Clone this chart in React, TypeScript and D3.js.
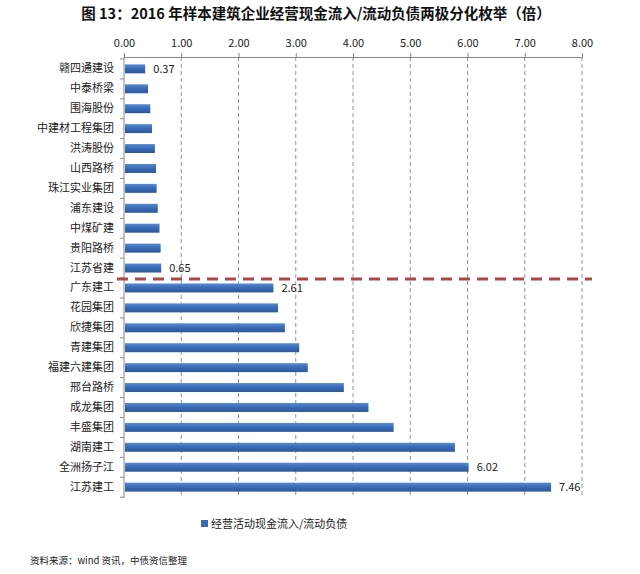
import React, { useRef, useEffect } from "react";
import * as d3 from "d3";

const companies = [
  "赣四通建设", "中泰桥梁", "围海股份", "中建材工程集团", "洪涛股份", "山西路桥",
  "珠江实业集团", "浦东建设", "中煤矿建", "贵阳路桥", "江苏省建",
  "广东建工", "花园集团", "欣捷集团", "青建集团", "福建六建集团", "邢台路桥",
  "成龙集团", "丰盛集团", "湖南建工", "全洲扬子江", "江苏建工",
];
const ratios = [
  0.37, 0.42, 0.46, 0.49, 0.54, 0.56, 0.57, 0.59, 0.62, 0.64, 0.65,
  2.61, 2.69, 2.81, 3.06, 3.21, 3.84, 4.27, 4.71, 5.78, 6.02, 7.46,
];
const labelled = ["赣四通建设", "江苏省建", "广东建工", "全洲扬子江", "江苏建工"];
const xTicks = [0, 1, 2, 3, 4, 5, 6, 7, 8];
const splitAfter = "江苏省建";

const title = "图 13：2016 年样本建筑企业经营现金流入/流动负债两极分化枚举（倍）";
const legendText = "经营活动现金流入/流动负债";
const sourceText = "资料来源：wind 资讯，中债资信整理";

const App: React.FC = () => {
  const ref = useRef<SVGSVGElement | null>(null);

  useEffect(() => {
    if (!ref.current) return;
    const root = d3.select(ref.current);
    root.selectAll("*").remove();

    const width = 640;
    const height = 574;
    const margin = { top: 57, left: 124, right: 58, bottom: 77 };
    const font = "'Noto Sans CJK SC', 'Liberation Sans', sans-serif";

    root.attr("width", width).attr("height", height);

    const data = companies.map((name, i) => ({ name, value: ratios[i] }));

    const x = d3
      .scaleLinear()
      .domain([0, 8])
      .range([margin.left, width - margin.right]);

    const y = d3
      .scaleBand()
      .domain(companies)
      .range([margin.top + 2, height - margin.bottom])
      .paddingInner(0.55)
      .paddingOuter(0.27);

    // defs: bar gradient
    const grad = root
      .append("defs")
      .append("linearGradient")
      .attr("id", "barGrad")
      .attr("x1", 0)
      .attr("y1", 0)
      .attr("x2", 0)
      .attr("y2", 1);
    grad.append("stop").attr("offset", "0%").attr("stop-color", "#5a8ad0");
    grad.append("stop").attr("offset", "45%").attr("stop-color", "#3a6cb8");
    grad.append("stop").attr("offset", "100%").attr("stop-color", "#2c5899");

    // Title
    root
      .append("text")
      .attr("x", 316)
      .attr("y", 19)
      .attr("text-anchor", "middle")
      .style("font-family", "'Noto Sans CJK SC', serif")
      .style("font-weight", "bold")
      .style("font-size", "14.5px")
      .attr("fill", "#111")
      .text(title);

    const plotBottom = height - margin.bottom + 1;

    // Grid lines
    root
      .append("g")
      .selectAll("line")
      .data(xTicks.slice(1))
      .join("line")
      .attr("x1", (d) => x(d))
      .attr("x2", (d) => x(d))
      .attr("y1", margin.top)
      .attr("y2", plotBottom)
      .attr("stroke", "#777")
      .attr("stroke-width", 0.8)
      .attr("stroke-dasharray", "4,3");

    // Top axis
    const topAxis = root
      .append("g")
      .attr("transform", `translate(0,${margin.top})`)
      .call(
        d3
          .axisTop(x)
          .tickValues(xTicks)
          .tickFormat((d) => d3.format(".2f")(d as number))
          .tickSize(4)
          .tickPadding(6)
      );
    topAxis.select(".domain").attr("stroke", "#888");
    topAxis.selectAll("line").attr("stroke", "#888");
    topAxis
      .selectAll("text")
      .style("font-family", font)
      .style("font-size", "11px")
      .attr("fill", "#222");

    // Left axis
    const leftAxis = root
      .append("g")
      .attr("transform", `translate(${margin.left},0)`)
      .call(d3.axisLeft(y).tickSize(0).tickPadding(10));
    leftAxis.select(".domain").remove();
    leftAxis
      .selectAll("text")
      .style("font-family", font)
      .style("font-size", "11px")
      .attr("fill", "#222");
    root
      .append("line")
      .attr("x1", margin.left)
      .attr("x2", margin.left)
      .attr("y1", margin.top)
      .attr("y2", plotBottom)
      .attr("stroke", "#888");
    const step = y.step();
    root
      .append("g")
      .selectAll("line")
      .data(d3.range(companies.length + 1))
      .join("line")
      .attr("x1", margin.left - 4)
      .attr("x2", margin.left)
      .attr("y1", (i) => y(companies[0])! - step * 0.27 + i * step)
      .attr("y2", (i) => y(companies[0])! - step * 0.27 + i * step)
      .attr("stroke", "#888");

    // Bars
    root
      .append("g")
      .selectAll("rect")
      .data(data)
      .join("rect")
      .attr("x", x(0) + 1)
      .attr("y", (d) => y(d.name)!)
      .attr("width", (d) => x(d.value) - x(0) - 1)
      .attr("height", y.bandwidth())
      .attr("fill", "url(#barGrad)");

    // Value labels
    root
      .append("g")
      .selectAll("text")
      .data(data.filter((d) => labelled.includes(d.name)))
      .join("text")
      .attr("x", (d) => x(d.value) + 8)
      .attr("y", (d) => y(d.name)! + y.bandwidth() / 2 + 4)
      .style("font-family", font)
      .style("font-size", "11px")
      .attr("fill", "#222")
      .text((d) => d3.format(".2f")(d.value));

    // Red dashed split line
    const splitIdx = companies.indexOf(splitAfter);
    const splitY = y(companies[splitIdx])! + y.bandwidth() + (step - y.bandwidth()) / 2 + 1;
    root
      .append("line")
      .attr("x1", 117)
      .attr("x2", 592)
      .attr("y1", splitY)
      .attr("y2", splitY)
      .attr("stroke", "#b0464a")
      .attr("stroke-width", 3)
      .attr("stroke-dasharray", "11,7");

    // Legend
    root
      .append("rect")
      .attr("x", 201)
      .attr("y", 520)
      .attr("width", 7)
      .attr("height", 7)
      .attr("fill", "#3a6cb8");
    root
      .append("text")
      .attr("x", 211)
      .attr("y", 528)
      .style("font-family", font)
      .style("font-size", "11px")
      .attr("fill", "#222")
      .text(legendText);

    // Source
    root
      .append("text")
      .attr("x", 30)
      .attr("y", 564)
      .style("font-family", font)
      .style("font-size", "9.5px")
      .attr("fill", "#222")
      .text(sourceText);
  }, []);

  return (
    <svg
      ref={ref}
      style={{ position: "absolute", left: 0, top: 0, background: "#fff" }}
    ></svg>
  );
};

export default App;
